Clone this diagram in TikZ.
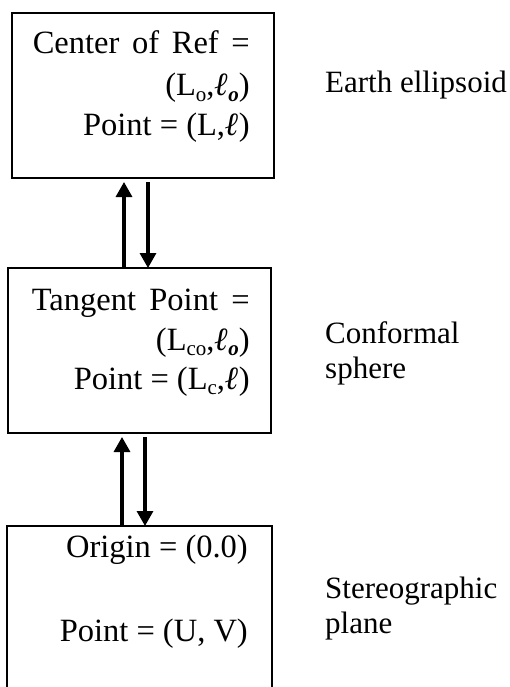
\documentclass[tikz,border=0pt]{standalone}
\usepackage{fontspec}
\setmainfont{Liberation Serif}
\usetikzlibrary{arrows.meta}
\newcommand\lsub[1]{\raisebox{-0.16em}{\fontsize{21}{21}\selectfont #1}}
\begin{document}
\begin{tikzpicture}[x=1pt,y=1pt,
  box/.style={draw, line width=1.6pt, minimum height=165pt, inner sep=0pt, outer sep=0pt},
  txt/.style={anchor=base east, inner sep=0pt, font=\fontsize{32.5}{36}\selectfont},
  lbl/.style={anchor=base west, inner sep=0pt, align=left, font=\fontsize{31}{35}\selectfont},
  conn/.style={line width=3.2pt, -{Triangle[width=16pt,length=15pt]}}]
\useasboundingbox (0,0) rectangle (509,-687);
% boxes
\node[box, minimum width=262pt] (b1) at (143,-95.5) {};
\node[box, minimum width=263pt] (b2) at (139.5,-350.5) {};
\node[box, minimum width=265pt] (b3) at (139.5,-608.5) {};
% box 1 text
\node[txt] (t11) at (250,-54) {\makebox[217pt][s]{Center of Ref =}};
\node[txt] (t12) at (250,-96) {(L\lsub{o},{\bfseries\itshape ℓ\lsub{o}})};
\node[txt] (t13) at (250,-136) {Point = (L,{\bfseries\itshape ℓ})};
% box 2 text
\node[txt] (t21) at (250,-310) {\makebox[218pt][s]{Tangent Point =}};
\node[txt] (t22) at (250,-350) {(L\lsub{co},{\bfseries\itshape ℓ\lsub{o}})};
\node[txt] (t23) at (250,-389) {Point = (L\lsub{c},{\bfseries\itshape ℓ})};
% box 3 text
\node[txt] (t31) at (248,-557) {Origin = (0.0)};
\node[txt] (t32) at (248,-641) {Point = (U, V)};
% side labels (base anchor = last line)
\node[lbl] (l1) at (325,-93) {Earth ellipsoid};
\node[lbl] (l2) at (325,-378) {Conformal\\sphere};
\node[lbl] (l3) at (325,-633) {Stereographic\\plane};
% connectors
\draw[conn, shorten >=4pt] ([xshift=-15.5pt]b2.north) -- ([xshift=-15.5pt]b2.north |- b1.south);
\draw[conn, shorten <=4pt] ([xshift=8.5pt]b2.north |- b1.south) -- ([xshift=8.5pt]b2.north);
\draw[conn, shorten >=4pt] ([xshift=-17.5pt]b3.north) -- ([xshift=-17.5pt]b3.north |- b2.south);
\draw[conn, shorten <=4pt] ([xshift=5.5pt]b3.north |- b2.south) -- ([xshift=5.5pt]b3.north);
\end{tikzpicture}
\end{document}
